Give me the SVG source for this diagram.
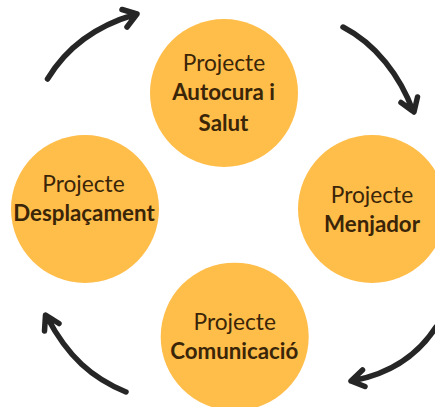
<svg xmlns="http://www.w3.org/2000/svg" width="435" height="407" viewBox="0 0 435 407">
<style>
.n{fill:#ffbd4a}
.t{font-family:Lato,"Open Sans",sans-serif;font-size:22.7px;fill:#3a2508;text-anchor:middle}
.b{font-weight:700;font-size:22.3px}
.c{fill:none;stroke:#262626;stroke-width:5.5px;stroke-linecap:round;stroke-linejoin:round}
</style>
<rect width="435" height="407" fill="#ffffff"/>
<g id="connectors">
<path class="c" d="M47.500 79C65 50 92 27 135 14.500M122 9.500L137 14L127 27"/>
<path class="c" d="M343 27C376 44 400 76 413 111M401 102.500L414 112L417.500 97"/>
<path class="c" d="M436 327C418 355 392 373 354 380.500M362.500 370L351 381L365 386.500"/>
<path class="c" d="M126 392C92 378 68 357 47 317M44.500 331L45.500 315L59 323.500"/>
</g>
<g id="node-autocura"><circle class="n" cx="224" cy="93" r="74"/>
<text class="t" x="224" y="71">Projecte</text><text class="t b" x="223.500" y="100">Autocura i</text><text class="t b" x="223.500" y="131">Salut</text></g>
<g id="node-menjador"><circle class="n" cx="372" cy="209" r="74"/>
<text class="t" x="372" y="203">Projecte</text><text class="t b" x="372" y="232">Menjador</text></g>
<g id="node-comunicacio"><circle class="n" cx="234.700" cy="336.700" r="74"/>
<text class="t" x="234.700" y="330">Projecte</text><text class="t b" x="234.200" y="359">Comunicació</text></g>
<g id="node-desplacament"><circle class="n" cx="85" cy="209" r="74"/>
<text class="t" x="83.500" y="192">Projecte</text><text class="t b" x="84" y="221">Desplaçament</text></g>
</svg>
